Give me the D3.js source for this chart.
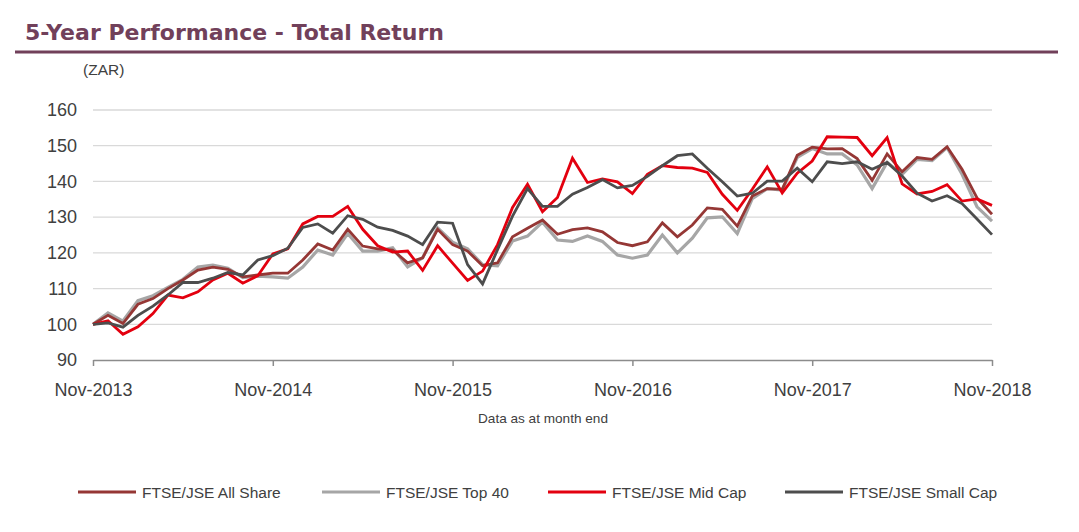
<!DOCTYPE html>
<html><head><meta charset="utf-8">
<script src="https://cdn.jsdelivr.net/npm/d3@7"></script>
<style>
body{margin:0;background:#fff;}
svg{display:block;}
</style></head>
<body>
<svg id="c" width="1079" height="532"></svg>
<script>
const months = d3.range(0, 61); // Nov-2013 .. Nov-2018
const xTickIdx = [0, 12, 24, 36, 48, 60];
const xTickLabels = ["Nov-2013", "Nov-2014", "Nov-2015", "Nov-2016", "Nov-2017", "Nov-2018"];
const yTicks = [90, 100, 110, 120, 130, 140, 150, 160];
const seriesNames = ["FTSE/JSE All Share", "FTSE/JSE Top 40", "FTSE/JSE Mid Cap", "FTSE/JSE Small Cap"];

const allShare = [100, 102.5, 100.2, 105.6, 107.2, 110, 112.4, 115.2, 116, 115.4, 113.3, 113.8, 114.3,
  114.3, 118, 122.5, 120.8, 126.6, 121.9, 121.1, 120.8, 117.2, 118.6, 126.6, 122.3,
  120.5, 116.4, 117.2, 124.5, 126.9, 129.2, 125.2, 126.5, 127, 125.9, 122.9, 122,
  123.1, 128.4, 124.5, 127.8, 132.6, 132.2, 127.5, 135.9, 138, 137.8, 147.3, 149.6,
  149.1, 149.2, 146.4, 140.3, 147.7, 142.7, 146.7, 146.2, 149.7, 143.4, 135.4, 130.8];
const top40 = [100, 103.2, 100.9, 106.6, 108, 110.3, 112.6, 116, 116.6, 115.7, 113.1, 113.5, 113.3,
  112.9, 116, 120.8, 119.4, 125.4, 120.5, 120.5, 121.4, 116.1, 118.6, 127, 123,
  121.1, 116.7, 116.4, 123.3, 124.7, 128.6, 123.6, 123.2, 124.7, 123.2, 119.4, 118.5,
  119.4, 125, 120, 124.1, 129.8, 130.1, 125.4, 135.2, 138, 137.6, 146.7, 149.2,
  147.7, 147.7, 144.6, 138, 145.3, 142, 146.2, 145.8, 149.5, 142, 132.9, 128.9];
const midCap = [100, 101, 97.2, 99.3, 103, 108.2, 107.4, 109.1, 112.4, 114.3, 111.5, 113.6, 119.7,
  121.1, 128.1, 130.2, 130.2, 133, 126.6, 122, 120.2, 120.5, 115.1, 122, 117.1,
  112.3, 114.9, 122.3, 132.7, 139.2, 131.5, 135.5, 146.5, 139.7, 140.7, 139.9, 136.6,
  142, 144.4, 143.9, 143.7, 142.5, 136.4, 131.9, 137.8, 144.1, 136.8, 142.3, 145.7,
  152.5, 152.4, 152.3, 147.2, 152.3, 139.3, 136.5, 137.2, 139.1, 134.5, 135.1, 133.3];
const smallCap = [100, 100.4, 99.2, 102.5, 105.1, 108.2, 111.7, 111.7, 112.9, 114.5, 113.8, 118, 119.2,
  121.3, 127.1, 128.1, 125.5, 130.4, 129.4, 127.2, 126.3, 124.7, 122.3, 128.6, 128.3,
  116.7, 111.3, 120.9, 130.3, 138, 133, 133, 136.4, 138.3, 140.5, 138.2, 138.9,
  141.4, 144.4, 147.2, 147.7, 143.7, 139.9, 135.9, 136.7, 140.1, 140.1, 143.7, 139.9,
  145.5, 145, 145.5, 143.4, 145.3, 141.5, 136.7, 134.5, 136, 133.8, 129.5, 125.1];

const seriesData = [allShare, top40, midCap, smallCap];
const seriesColors = ["#953735", "#A6A6A6", "#E3000F", "#4D4D4D"];
const drawOrder = [1, 0, 2, 3];

const svg = d3.select("#c");
const titleColor = "#71405A";

svg.append("text").attr("x", 25).attr("y", 40)
  .attr("font-family", "DejaVu Sans, Verdana, sans-serif").attr("font-weight", "bold")
  .attr("font-size", 22).attr("fill", titleColor).text("5-Year Performance - Total Return");
svg.append("line").attr("x1", 15).attr("x2", 1058).attr("y1", 52).attr("y2", 52)
  .attr("stroke", titleColor).attr("stroke-width", 3);

const x = d3.scaleLinear().domain([0, 60]).range([93, 992]);
const y = d3.scaleLinear().domain([90, 160]).range([360, 110]);
const font = "Liberation Sans, Arial, sans-serif";
const textColor = "#404040";

svg.append("text").attr("x", 83).attr("y", 75).attr("font-family", font)
  .attr("font-size", 15.5).attr("fill", textColor).text("(ZAR)");

// gridlines
svg.append("g").selectAll("line").data(yTicks.filter(d => d > 90)).join("line")
  .attr("x1", x(0)).attr("x2", x(60)).attr("y1", d => y(d)).attr("y2", d => y(d))
  .attr("stroke", "#D9D9D9").attr("stroke-width", 1.3);

// y axis labels
const yAxis = d3.axisLeft(y).tickValues(yTicks).tickSize(0).tickPadding(0);
const gy = svg.append("g").attr("transform", "translate(77,0)").call(yAxis);
gy.select(".domain").remove();
gy.selectAll("text").attr("font-family", font).attr("font-size", 18).attr("fill", textColor);

// x axis
const xAxis = d3.axisBottom(x).tickValues(xTickIdx)
  .tickFormat((d, i) => xTickLabels[i]).tickSize(6).tickSizeOuter(0).tickPadding(17);
const gx = svg.append("g").attr("transform", `translate(0,${y(90)})`).call(xAxis);
gx.select(".domain").attr("stroke", "#8C8C8C").attr("stroke-width", 1.5);
gx.selectAll(".tick line").attr("stroke", "#8C8C8C").attr("stroke-width", 1.5);
gx.selectAll("text").attr("font-family", font).attr("font-size", 18).attr("fill", textColor);

svg.append("text").attr("x", 543).attr("y", 423).attr("text-anchor", "middle")
  .attr("font-family", font).attr("font-size", 13.6).attr("fill", textColor).text("Data as at month end");

// lines
const line = d3.line().x((d, i) => x(months[i])).y(d => y(d));
drawOrder.forEach(k => {
  svg.append("path").datum(seriesData[k]).attr("d", line)
    .attr("fill", "none").attr("stroke", seriesColors[k])
    .attr("stroke-width", k === 1 ? 3.2 : 2.8).attr("stroke-linejoin", "miter");
});

// legend
const legendX = [78, 322, 548, 785];
const lg = svg.append("g");
seriesNames.forEach((n, k) => {
  lg.append("line").attr("x1", legendX[k]).attr("x2", legendX[k] + 58)
    .attr("y1", 492).attr("y2", 492).attr("stroke", seriesColors[k]).attr("stroke-width", 3);
  lg.append("text").attr("x", legendX[k] + 64).attr("y", 497.5)
    .attr("font-family", font).attr("font-size", 15.5).attr("fill", textColor).text(n);
});
</script>
</body></html>
